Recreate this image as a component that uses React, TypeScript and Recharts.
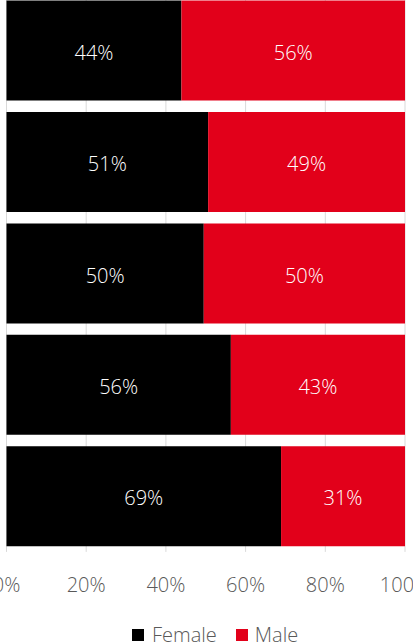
import { BarChart, Bar, XAxis, YAxis, CartesianGrid, LabelList } from 'recharts'

// five groups, no labels shown on the category axis
const groups = ['Group 1', 'Group 2', 'Group 3', 'Group 4', 'Group 5']
// bar segment widths (share of 100%)
const female = [43.9, 50.6, 49.5, 56.3, 68.9]
const male = [56.1, 49.4, 50.5, 43.7, 31.1]
// printed labels
const femaleLabels = ['44%', '51%', '50%', '56%', '69%']
const maleLabels = ['56%', '49%', '50%', '43%', '31%']
const ticks = [0, 20, 40, 60, 80, 100]

const FEMALE = '#000000'
const MALE = '#E2001A'
const FONT = '"Open Sans", "Segoe UI", sans-serif'
const SIZE = 20

const data = groups.map((name, i) => ({
  name,
  female: female[i],
  male: male[i],
  femaleLabel: femaleLabels[i],
  maleLabel: maleLabels[i],
}))

const labelStyle = {
  fontSize: SIZE,
  fontFamily: FONT,
  fontWeight: 300,
  transform: 'translateY(2px)',
}

export default function App() {
  return (
    <div style={{ position: 'absolute', left: 0, top: 0, width: 413, height: 644, overflow: 'hidden' }}>
      <div style={{ position: 'absolute', left: 0, top: -6 }}>
        <BarChart
          width={413}
          height={650}
          data={data}
          layout="vertical"
          margin={{ top: 0.7, right: 8, left: 6.5, bottom: 62.1 }}
          barCategoryGap="5.25%"
        >
          <CartesianGrid horizontal={false} stroke="#d9d9d9" />
          <XAxis
            type="number"
            domain={[0, 100]}
            ticks={ticks}
            tickFormatter={(v) => `${v}%`}
            axisLine={false}
            tickLine={false}
            tickSize={0}
            tickMargin={25.6}
            height={30}
            interval={0}
            tick={{ fill: '#595959', fontSize: SIZE, fontFamily: FONT, fontWeight: 300 }}
          />
          <YAxis type="category" dataKey="name" hide />
          <Bar dataKey="female" stackId="a" fill={FEMALE} isAnimationActive={false}>
            <LabelList dataKey="femaleLabel" position="center" fill="#ffffff" style={labelStyle} />
          </Bar>
          <Bar dataKey="male" stackId="a" fill={MALE} isAnimationActive={false}>
            <LabelList dataKey="maleLabel" position="center" fill="#ffffff" style={labelStyle} />
          </Bar>
        </BarChart>
      </div>
      <div
        style={{
          position: 'absolute',
          left: 132,
          top: 621,
          display: 'flex',
          alignItems: 'center',
          fontFamily: FONT,
          fontSize: SIZE,
          fontWeight: 300,
          lineHeight: '28px',
          color: '#595959',
        }}
      >
        <span style={{ width: 12, height: 12, background: FEMALE, marginRight: 8 }} />
        <span style={{ marginRight: 19 }}>Female</span>
        <span style={{ width: 12, height: 12, background: MALE, marginRight: 7 }} />
        <span>Male</span>
      </div>
    </div>
  )
}
